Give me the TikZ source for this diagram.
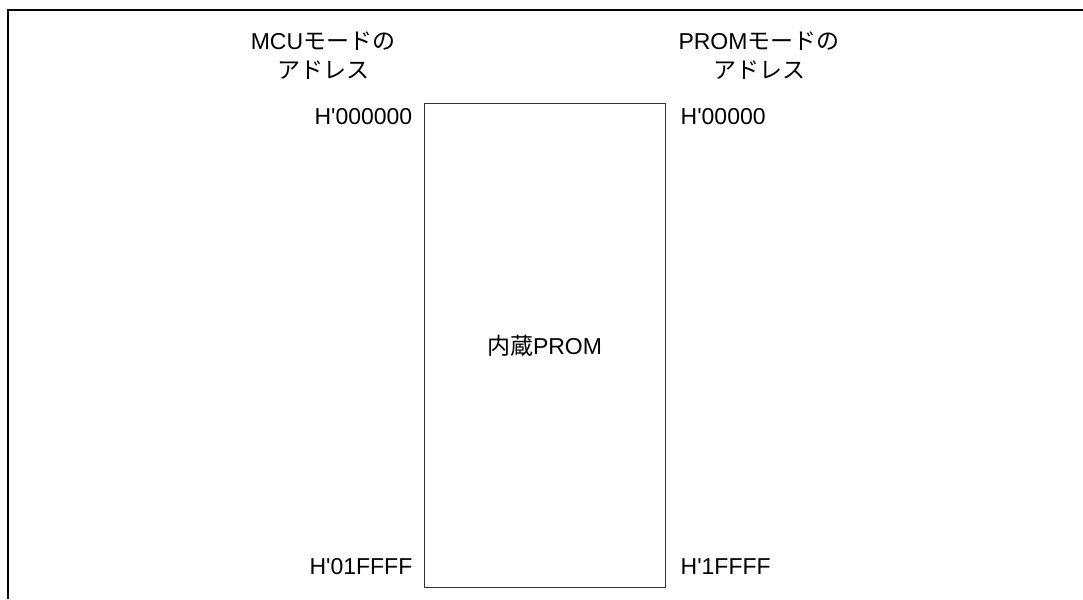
\documentclass[tikz,border=0pt]{standalone}
\usepackage{fontspec}
\setmainfont{Liberation Sans}
\newfontfamily\jpfont{Noto Sans CJK JP}
\usetikzlibrary{positioning}

\begin{document}
\begin{tikzpicture}[x=1pt,y=-1pt,
  every node/.style={font=\fontsize{23}{29}\selectfont,inner sep=0pt},
  frameline/.style={line width=2pt},
  memblock/.style={draw=black!80,line width=1pt,minimum width=241pt,minimum height=483pt}]
\useasboundingbox (0,0) rectangle (1083,599);
\draw[frameline] (1083,10.5) -- (8,10.5) -- (8,599);
\node[memblock] (rom) at (544.5,345.5) {{\jpfont 内蔵}PROM};
\node (mcuhead) at (323,55.5) [align=center] {MCU{\jpfont モードの}\\{\jpfont アドレス}};
\node (promhead) at (759,55.5) [align=center] {PROM{\jpfont モードの}\\{\jpfont アドレス}};
\node (mcutop) [anchor=east] at ([xshift=-11pt,yshift=-13pt]rom.north west) {H\textquotesingle 000000};
\node (mcuend) [anchor=east] at ([xshift=-11pt,yshift=21pt]rom.south west) {H\textquotesingle 01FFFF};
\node (promtop) [anchor=west] at ([xshift=15pt,yshift=-13pt]rom.north east) {H\textquotesingle 00000};
\node (promend) [anchor=west] at ([xshift=15pt,yshift=21pt]rom.south east) {H\textquotesingle 1FFFF};
\end{tikzpicture}
\end{document}
